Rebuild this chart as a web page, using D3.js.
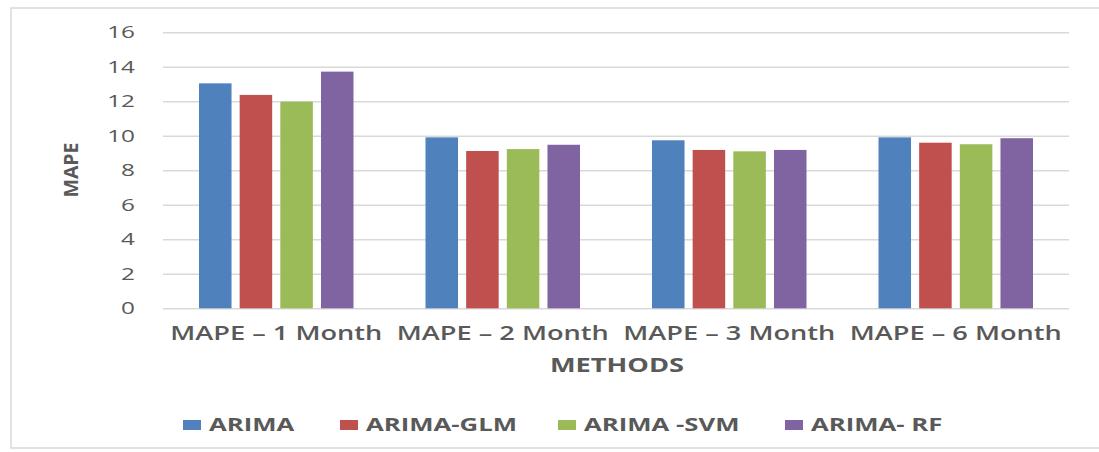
<!DOCTYPE html>
<html>
<head>
<meta charset="utf-8">
<script src="https://cdn.jsdelivr.net/npm/d3@7/dist/d3.min.js"></script>
<style>
  html, body { margin: 0; padding: 0; background: #ffffff; }
  svg { display: block; }
  text { font-family: "Open Sans", "Noto Sans", sans-serif; fill: #595959; }
</style>
</head>
<body>
<svg id="chart" width="1099" height="452"></svg>
<script>
const categories = ["MAPE – 1 Month", "MAPE – 2 Month", "MAPE – 3 Month", "MAPE – 6 Month"];
const seriesNames = ["ARIMA", "ARIMA-GLM", "ARIMA -SVM", "ARIMA- RF"];
const seriesColors = ["#4F81BD", "#C0504D", "#9BBB59", "#8064A2"];
const arima    = [13.04, 9.91, 9.74, 9.91];
const arimaGlm = [12.37, 9.12, 9.18, 9.60];
const arimaSvm = [11.98, 9.23, 9.10, 9.51];
const arimaRf  = [13.72, 9.48, 9.18, 9.86];
const yTicks = [0, 2, 4, 6, 8, 10, 12, 14, 16];

const seriesValues = [arima, arimaGlm, arimaSvm, arimaRf];

const STRETCH = 1.43; // reference image is horizontally stretched
function stretch(sel, k) {
  sel.each(function () {
    const w = this.getComputedTextLength();
    d3.select(this).attr("textLength", w * (k || STRETCH)).attr("lengthAdjust", "spacingAndGlyphs");
  });
}

const svg = d3.select("#chart");

// outer frame
svg.append("rect")
  .attr("x", 11).attr("y", 8).attr("width", 1120).attr("height", 440)
  .attr("fill", "none").attr("stroke", "#d9d9d9").attr("stroke-width", 1.5);

const plotLeft = 163, plotRight = 1069, plotTop = 32.3, plotBottom = 308.3;

const y = d3.scaleLinear().domain([0, 16]).range([plotBottom, plotTop]);
const x0 = d3.scaleBand().domain(categories).range([plotLeft, plotRight]).padding(0);
const x1 = d3.scaleBand().domain(seriesNames).range([36, x0.bandwidth() - 36]).paddingInner(0.2).paddingOuter(0);

// gridlines + y tick labels
const yAxis = d3.axisLeft(y).tickValues(yTicks).tickSize(-(plotRight - plotLeft)).tickPadding(28).tickFormat(d3.format("d"));
const gy = svg.append("g").attr("transform", `translate(${plotLeft},0)`).call(yAxis);
gy.select(".domain").remove();
gy.selectAll(".tick line").attr("stroke", "#d9d9d9").attr("stroke-width", 1.5);
gy.selectAll(".tick text")
  .style("font-family", "'Open Sans', sans-serif")
  .attr("font-size", 17).style("fill", "#595959")
  .call(stretch);

// bars
const groups = svg.append("g").selectAll("g")
  .data(categories)
  .join("g")
  .attr("transform", d => `translate(${x0(d)},0)`);

groups.selectAll("rect")
  .data((d, i) => seriesNames.map((s, j) => ({ s, v: seriesValues[j][i], c: seriesColors[j] })))
  .join("rect")
  .attr("x", d => x1(d.s))
  .attr("width", x1.bandwidth())
  .attr("y", d => y(d.v))
  .attr("height", d => y(0) - y(d.v))
  .attr("fill", d => d.c);

// x axis labels
const xAxis = d3.axisBottom(x0).tickSize(0).tickPadding(0);
const gx = svg.append("g").attr("transform", `translate(0,${plotBottom})`).call(xAxis);
gx.select(".domain").remove();
gx.selectAll(".tick text")
  .attr("dy", null).attr("y", 32)
  .attr("font-size", 19).attr("font-weight", 600)
  .style("font-family", "'Open Sans', sans-serif").style("fill", "#595959")
  .call(stretch);

// axis titles
svg.append("text")
  .attr("x", 617).attr("y", 372)
  .attr("text-anchor", "middle")
  .attr("font-size", 19).attr("font-weight", 700)
  .text("METHODS")
  .call(stretch);

svg.append("text")
  .attr("transform", "translate(78,170) rotate(-90)")
  .attr("text-anchor", "middle")
  .attr("font-size", 19).attr("font-weight", 700)
  .attr("textLength", 55).attr("lengthAdjust", "spacingAndGlyphs")
  .text("MAPE");

// legend
const legendX = [183, 340, 558, 785];
const legend = svg.append("g").selectAll("g")
  .data(seriesNames)
  .join("g")
  .attr("transform", (d, i) => `translate(${legendX[i]},420)`);
legend.append("rect")
  .attr("width", 18).attr("height", 10)
  .attr("fill", (d, i) => seriesColors[i]);
legend.append("text")
  .attr("x", 26).attr("y", 11)
  .attr("font-size", 18).attr("font-weight", 700)
  .text(d => d)
  .call(stretch);
</script>
</body>
</html>
